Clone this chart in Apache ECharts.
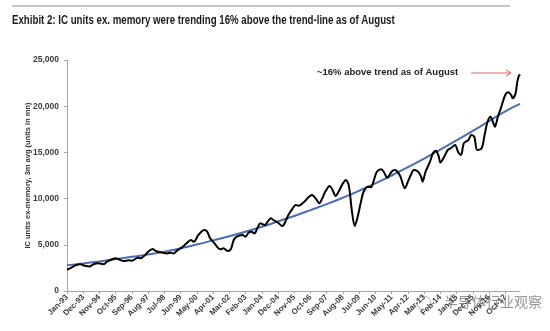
<!DOCTYPE html>
<html>
<head>
<meta charset="utf-8">
<script src="https://cdn.jsdelivr.net/npm/echarts@6/dist/echarts.min.js"></script>
<style>
  html, body { margin: 0; padding: 0; background: #fff; }
  #chart { width: 550px; height: 331px; }
</style>
</head>
<body>
<div id="chart"></div>
<script>
// Monthly category axis: Jan-93 through Aug-18
const monthNames = ['Jan','Feb','Mar','Apr','May','Jun','Jul','Aug','Sep','Oct','Nov','Dec'];
const firstYear = 1993, lastYear = 2018, lastMonth = 7; // Aug
const months = [];
for (let y = firstYear; y <= lastYear; y++) {
  for (let m = 0; m < 12; m++) {
    if (y === lastYear && m > lastMonth) break;
    months.push(monthNames[m] + '-' + String(y).slice(2));
  }
}

// IC units ex-memory, 3m avg (units in mn)
const icDates = [
  'Jan-93','Mar-93','Jul-93','Oct-93','Jan-94','Apr-94','Jul-94','Oct-94','Feb-95','Apr-95',
  'Aug-95','Oct-95','Dec-95','Mar-96','Jul-96','Sep-96','Jan-97','Mar-97','Jun-97','Aug-97',
  'Nov-97','Jan-98','Mar-98','May-98','Sep-98','Nov-98','Jan-99','Apr-99','Jul-99','Oct-99',
  'Jan-00','Mar-00','Jun-00','Oct-00','Dec-00','Feb-01','May-01','Jul-01','Sep-01','Nov-01',
  'Feb-02','Apr-02','Jun-02','Aug-02','Dec-02','Feb-03','Apr-03','Jun-03','Aug-03','Oct-03',
  'Dec-03','Mar-04','May-04','Jul-04','Sep-04','Dec-04','Mar-05','May-05','Jul-05','Oct-05',
  'Dec-05','Feb-06','May-06','Jul-06','Sep-06','Nov-06','Feb-07','Apr-07','Jun-07','Aug-07',
  'Nov-07','Jan-08','Mar-08','May-08','Aug-08','Oct-08','Dec-08','Feb-09','Apr-09','Jun-09',
  'Aug-09','Oct-09','Jan-10','Mar-10','May-10','Jul-10','Oct-10','Dec-10','Feb-11','May-11',
  'Jul-11','Sep-11','Nov-11','Feb-12','Apr-12','Jun-12','Aug-12','Nov-12','Jan-13','Feb-13',
  'Apr-13','Jul-13','Sep-13','Nov-13','Jan-14','Feb-14','May-14','Jul-14','Sep-14','Dec-14',
  'Feb-15','Apr-15','Jun-15','Sep-15','Nov-15','Jan-16','Mar-16','Jun-16','Aug-16','Oct-16',
  'Dec-16','Feb-17','Mar-17','May-17','Jul-17','Oct-17','Dec-17','Feb-18','Mar-18','May-18',
  'Jun-18','Jul-18','Aug-18'
];
const icUnits = [
  2300, 2450, 2800, 2890, 2740, 2650, 2890, 3000, 2900, 3170,
  3460, 3540, 3430, 3250, 3320, 3280, 3600, 3540, 3900, 4250,
  4540, 4350, 4250, 4180, 4070, 4140, 4070, 4430, 4720, 5160,
  5520, 5330, 6060, 6600, 6420, 5700, 5160, 4720, 4510, 4620,
  4330, 4510, 5520, 5880, 6060, 5880, 6310, 6420, 6240, 6780,
  7320, 7140, 7500, 7860, 7680, 7390, 7030, 7500, 8220, 8950,
  9300, 9230, 9550, 9850, 10200, 10390, 9920, 9490, 10030, 10740,
  11360, 10930, 10280, 10740, 11650, 12010, 11400, 8760, 7030, 8040,
  9490, 10740, 11290, 11220, 12010, 12910, 13170, 12800, 12260, 12910,
  13090, 12910, 12370, 11110, 11830, 12550, 13090, 12910, 12370, 11830,
  12910, 13990, 14900, 15180, 14530, 13900, 14650, 15260, 15440, 15800,
  15080, 14720, 16000, 16340, 16880, 16700, 15260, 15440, 16880, 18320,
  18860, 18140, 17780, 18860, 19770, 21210, 21500, 21210, 20850, 21390,
  22470, 23190, 23450
];

// Long-run trend line
const trendDates = [
  'Jan-93','Dec-93','Nov-94','Oct-95','Sep-96','Aug-97','Jul-98','Jun-99','May-00','Apr-01',
  'Mar-02','Feb-03','Jan-04','Dec-04','Nov-05','Oct-06','Sep-07','Aug-08','Jul-09','Jun-10',
  'May-11','Apr-12','Mar-13','Feb-14','Jan-15','Dec-15','Nov-16','Oct-17','Aug-18'
];
const trendUnits = [
  2800, 2980, 3200, 3450, 3700, 3950, 4250, 4620, 5030, 5480,
  5930, 6420, 6950, 7530, 8120, 8750, 9400, 10100, 10850, 11650,
  12500, 13400, 14330, 15300, 16300, 17330, 18380, 19450, 20250
];

const yTicks = { min: 0, max: 25000, step: 5000 };

const titleText = 'Exhibit 2: IC units ex. memory were trending 16% above the trend-line as of August';
const yAxisTitle = 'IC units ex-memory, 3m avg (units in mn)';
const noteText = '~16% above trend as of August';
const brandText = '半导体行业观察';

const chart = echarts.init(document.getElementById('chart'), null, { renderer: 'canvas' });

const axisGray = '#a6a6a6';
const labelFont = "'Liberation Sans', Arial, sans-serif";

chart.setOption({
  animation: false,
  backgroundColor: '#ffffff',
  grid: { left: 67, right: 30, top: 60, bottom: 40, containLabel: false },
  xAxis: {
    type: 'category',
    data: months,
    boundaryGap: false,
    axisLine: { lineStyle: { color: axisGray, width: 1 } },
    axisTick: { show: true, interval: 10, length: 3, lineStyle: { color: axisGray } },
    axisLabel: {
      interval: 10,
      rotate: 45,
      fontSize: 8,
      fontWeight: 'bold',
      color: '#3a3a3a',
      fontFamily: labelFont,
      margin: 5
    },
    splitLine: { show: false }
  },
  yAxis: {
    type: 'value',
    min: yTicks.min,
    max: yTicks.max,
    interval: yTicks.step,
    name: yAxisTitle,
    nameLocation: 'middle',
    nameGap: 35,
    nameRotate: 90,
    nameMoveOverlap: false,
    nameTextStyle: { fontSize: 7.5, fontWeight: 'bold', color: '#333', fontFamily: labelFont },
    axisLine: { show: true, lineStyle: { color: axisGray, width: 1 } },
    axisTick: { show: true, length: 3, lineStyle: { color: axisGray } },
    axisLabel: {
      fontSize: 8.5,
      fontWeight: 'bold',
      color: '#3a3a3a',
      fontFamily: labelFont,
      margin: 8,
      formatter: v => v.toLocaleString('en-US')
    },
    splitLine: { show: false }
  },
  series: [
    {
      name: 'Trend',
      type: 'line',
      data: trendDates.map((d, i) => [d, trendUnits[i]]),
      smooth: true,
      showSymbol: false,
      connectNulls: true,
      lineStyle: { color: '#4a6eb0', width: 2 },
      z: 2
    },
    {
      name: 'IC units ex-memory',
      type: 'line',
      data: icDates.map((d, i) => [d, icUnits[i]]),
      smooth: 0.3,
      showSymbol: false,
      connectNulls: true,
      lineStyle: { color: '#000000', width: 2 },
      z: 3
    }
  ],
  graphic: [
    // top rule
    { type: 'line', shape: { x1: 12, y1: 6, x2: 510, y2: 6 }, style: { stroke: '#b0b0b0', lineWidth: 1.5 } },
    {
      type: 'text', x: 12, y: 14, scaleX: 0.775,
      style: {
        text: titleText,
        x: 0, y: 0,
        fontSize: 12.5, fontWeight: 'bold',
        fontFamily: labelFont,
        fill: '#1a1a1a',
        verticalAlign: 'top'
      }
    },
    {
      type: 'text', left: 317, top: 67,
      style: {
        text: noteText,
        fontSize: 9.5, fontWeight: 'bold',
        fontFamily: labelFont,
        fill: '#222'
      }
    },
    // red arrow pointing at the latest reading
    { type: 'line', shape: { x1: 471, y1: 73, x2: 511, y2: 73 }, style: { stroke: '#e06666', lineWidth: 1 } },
    { type: 'polyline', shape: { points: [[506, 70], [511, 73], [506, 76]] }, style: { stroke: '#e06666', lineWidth: 1, fill: null } },
    // brand mark
    { type: 'circle', shape: { cx: 424, cy: 303, r: 7 }, style: { stroke: 'rgba(150,150,150,0.6)', lineWidth: 1.2, fill: 'rgba(255,255,255,0.7)' } },
    {
      type: 'text', left: 443, top: 294,
      style: {
        text: brandText,
        fontSize: 14,
        fontFamily: "'Noto Sans CJK SC', sans-serif",
        fill: 'rgba(110,110,110,0.75)',
        stroke: 'rgba(255,255,255,0.8)', lineWidth: 2
      }
    }
  ]
});
</script>
</body>
</html>
